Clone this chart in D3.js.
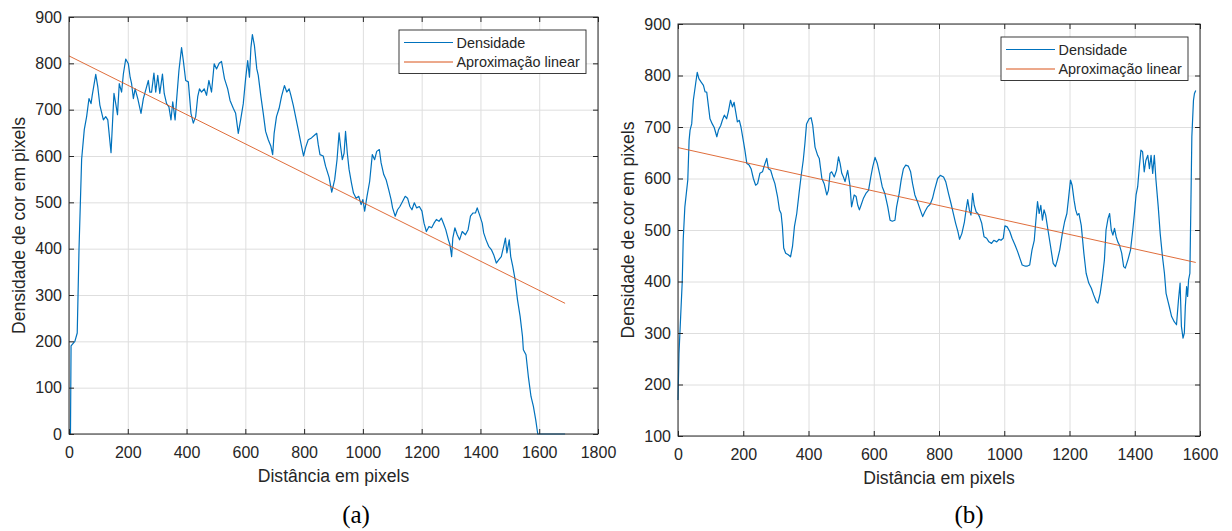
<!DOCTYPE html>
<html>
<head>
<meta charset="utf-8">
<script src="https://cdn.jsdelivr.net/npm/d3@7"></script>
<style>
  body { margin: 0; background: #fff; }
  svg { display: block; font-family: "Liberation Sans", Arial, sans-serif; }
  .grid line { stroke: #dedede; stroke-width: 1; }
  .grid .domain { display: none; }
  .axis text { fill: #262626; font-size: 16px; }
  .axis line { stroke: #262626; }
  .axis .domain { display: none; }
</style>
</head>
<body>
<script>
// Painel (a) - densidade ao longo da distância
const distA = [
  5, 7, 20, 28, 34, 43, 52, 60, 68, 75,
  79, 91, 98, 105, 117, 125, 132, 143, 153, 159,
  165, 171, 179, 185, 193, 202, 208, 213, 219, 225,
  234, 245, 253, 264, 270, 275, 281, 289, 295, 302,
  309, 318, 324, 332, 340, 347, 353, 361, 366, 374,
  383, 389, 397, 406, 415, 423, 431, 438, 444, 451,
  460, 468, 476, 485, 494, 502, 511, 519, 529, 540,
  548, 559, 567, 576, 584, 593, 601, 608, 614, 619,
  624, 631, 639, 644, 653, 661, 669, 678, 687, 693,
  698, 706, 715, 723, 733, 741, 749, 755, 763, 771,
  780, 789, 798, 805, 814, 825, 837, 843, 848, 854,
  865, 873, 885, 894, 904, 912, 919, 924, 930, 936,
  941, 947, 953, 961, 968, 977, 986, 994, 1000, 1006,
  1014, 1023, 1032, 1040, 1047, 1056, 1062, 1071, 1079, 1088,
  1096, 1101, 1110, 1118, 1126, 1135, 1144, 1152, 1160, 1167,
  1175, 1183, 1192, 1201, 1208, 1216, 1225, 1234, 1242, 1250,
  1259, 1267, 1274, 1282, 1291, 1296, 1302, 1306, 1313, 1321,
  1329, 1338, 1349, 1358, 1366, 1375, 1383, 1389, 1397, 1406,
  1411, 1419, 1428, 1437, 1445, 1454, 1462, 1471, 1479, 1485,
  1490, 1498, 1503, 1510, 1518, 1526, 1535, 1543, 1546, 1555,
  1563, 1572, 1580, 1588, 1595, 1688
];
const densA = [
  0, 190, 200, 218, 397, 593, 657, 685, 724, 713,
  731, 776, 749, 710, 678, 685, 678, 607, 735, 713,
  689, 756, 738, 777, 809, 799, 770, 756, 724, 745,
  724, 692, 724, 749, 763, 738, 738, 779, 738, 774,
  735, 777, 735, 713, 706, 678, 717, 678, 720, 784,
  834, 806, 763, 760, 692, 671, 685, 728, 745, 738,
  745, 731, 763, 738, 799, 788, 800, 804, 767, 745,
  720, 703, 692, 649, 678, 713, 767, 806, 770, 834,
  862, 838, 788, 774, 728, 692, 653, 635, 621, 603,
  649, 685, 703, 728, 752, 738, 745, 731, 710, 685,
  657, 628, 600, 618, 635, 639, 646, 649, 625, 603,
  600, 578, 554, 522, 549, 592, 650, 621, 592, 606,
  653, 606, 571, 542, 520, 509, 513, 495, 506, 481,
  513, 545, 603, 592, 610, 614, 585, 560, 549, 527,
  506, 488, 470, 484, 491, 502, 513, 509, 491, 484,
  499, 488, 491, 481, 455, 437, 448, 445, 455, 463,
  459, 466, 455, 441, 419, 409, 383, 423, 445, 430,
  419, 437, 430, 441, 470, 477, 477, 488, 473, 455,
  434, 419, 405, 398, 387, 369, 376, 383, 405, 423,
  391, 419, 383, 362, 333, 290, 254, 211, 182, 171,
  124, 81, 60, 31, 0, 0
];
const fitDistA = [0, 1688];
const fitDensA = [816, 282];

// Painel (b)
const distB = [
  0, 3, 8, 13, 16, 21, 30, 34, 37, 42,
  47, 54, 59, 64, 71, 78, 83, 88, 93, 98,
  105, 111, 119, 124, 131, 136, 142, 149, 154, 161,
  167, 172, 177, 182, 188, 193, 200, 205, 211, 218,
  224, 231, 238, 244, 251, 259, 265, 272, 277, 284,
  290, 297, 305, 311, 316, 320, 324, 330, 338, 345,
  351, 357, 364, 371, 377, 384, 389, 394, 402, 408,
  413, 420, 428, 433, 441, 448, 456, 461, 466, 471,
  479, 486, 492, 497, 502, 507, 512, 520, 527, 532,
  540, 546, 551, 556, 561, 568, 576, 584, 591, 597,
  604, 611, 619, 626, 634, 643, 650, 657, 665, 670,
  678, 684, 691, 698, 706, 713, 719, 726, 734, 741,
  750, 757, 765, 773, 780, 786, 796, 804, 814, 821,
  829, 837, 844, 851, 858, 863, 870, 878, 883, 888,
  893, 898, 903, 908, 914, 919, 924, 931, 938, 946,
  953, 961, 968, 977, 984, 990, 997, 1002, 1009, 1017,
  1024, 1033, 1041, 1048, 1055, 1063, 1071, 1078, 1085, 1092,
  1097, 1102, 1107, 1112, 1117, 1122, 1127, 1134, 1142, 1150,
  1157, 1163, 1170, 1178, 1185, 1192, 1197, 1203, 1208, 1214,
  1219, 1224, 1229, 1236, 1244, 1251, 1259, 1267, 1274, 1282,
  1287, 1294, 1300, 1307, 1312, 1318, 1323, 1328, 1333, 1338,
  1343, 1348, 1353, 1360, 1366, 1371, 1379, 1387, 1394, 1399,
  1404, 1409, 1414, 1419, 1424, 1429, 1434, 1440, 1445, 1450,
  1455, 1460, 1465, 1472, 1478, 1485, 1491, 1496, 1501, 1506,
  1513, 1521, 1528, 1534, 1539, 1543, 1548, 1552, 1555, 1559,
  1562, 1565, 1569, 1572, 1575, 1580, 1583, 1587
];
const densB = [
  170, 260, 330, 400, 481, 545, 597, 674, 694, 706,
  752, 784, 806, 794, 787, 781, 768, 768, 742, 716,
  706, 699, 681, 694, 703, 713, 723, 716, 729, 752,
  739, 748, 729, 710, 713, 700, 674, 655, 629, 626,
  619, 600, 587, 590, 610, 613, 626, 639, 619, 616,
  603, 590, 565, 539, 532, 507, 465, 455, 452, 448,
  468, 507, 532, 571, 603, 636, 668, 706, 716, 718,
  703, 661, 645, 639, 600, 590, 568, 577, 610, 613,
  603, 616, 642, 629, 610, 603, 594, 616, 587, 545,
  568, 565, 548, 539, 548, 561, 571, 577, 603, 623,
  641, 629, 606, 584, 571, 545, 519, 517, 519, 545,
  571, 597, 619, 626, 624, 613, 590, 568, 555, 542,
  526, 536, 545, 550, 561, 577, 600, 606, 603, 593,
  571, 551, 532, 513, 497, 482, 493, 516, 539, 559,
  539, 529, 571, 548, 535, 532, 526, 513, 487, 484,
  477, 474, 480, 477, 482, 480, 484, 508, 506, 497,
  484, 471, 458, 445, 432, 430, 430, 432, 461, 480,
  519, 555, 532, 548, 519, 539, 529, 500, 468, 435,
  429, 442, 461, 493, 516, 532, 561, 597, 587, 558,
  539, 529, 532, 509, 455, 416, 397, 387, 374, 361,
  358, 377, 403, 442, 500, 522, 532, 500, 490, 503,
  487, 477, 471, 455, 429, 426, 442, 461, 500, 532,
  568, 584, 622, 655, 652, 613, 635, 645, 619, 645,
  610, 645, 597, 545, 493, 448, 416, 377, 364, 351,
  332, 322, 316, 364, 397, 313, 290, 300, 351, 390,
  371, 403, 416, 545, 681, 752, 765, 771
];
const fitDistB = [0, 1587];
const fitDensB = [660, 437];

// Ticks
const xTicksA = [0, 200, 400, 600, 800, 1000, 1200, 1400, 1600, 1800];
const yTicksA = [0, 100, 200, 300, 400, 500, 600, 700, 800, 900];
const xTicksB = [0, 200, 400, 600, 800, 1000, 1200, 1400, 1600];
const yTicksB = [100, 200, 300, 400, 500, 600, 700, 800, 900];

const legendLabels = ['Densidade', 'Aproximação linear'];
const BLUE = '#0072BD', ORANGE = '#D95319', INK = '#262626';

const svg = d3.select('body').append('svg')
    .attr('width', 1232)
    .attr('height', 531);

svg.append('rect').attr('width', 1232).attr('height', 531).attr('fill', '#fff');

function drawPanel(p) {
  const x = d3.scaleLinear().domain(p.xDomain).range([p.left, p.right]);
  const y = d3.scaleLinear().domain(p.yDomain).range([p.bottom, p.top]);
  const w = p.right - p.left, h = p.bottom - p.top;
  const fmt = d3.format('d');

  const g = svg.append('g');

  // grid
  g.append('g')
     .attr('class', 'grid')
     .attr('transform', `translate(0,${p.bottom})`)
     .call(d3.axisBottom(x).tickValues(p.xTicks).tickSize(-h).tickFormat(''));
  g.append('g')
     .attr('class', 'grid')
     .attr('transform', `translate(${p.left},0)`)
     .call(d3.axisLeft(y).tickValues(p.yTicks).tickSize(-w).tickFormat(''));

  // data
  const line = d3.line().x(d => x(d[0])).y(d => y(d[1]));
  g.append('path')
     .datum(d3.zip(p.dist, p.dens))
     .attr('fill', 'none')
     .attr('stroke', BLUE)
     .attr('stroke-width', 1.2)
     .attr('stroke-linejoin', 'round')
     .attr('d', line);
  g.append('path')
     .datum(d3.zip(p.fitDist, p.fitDens))
     .attr('fill', 'none')
     .attr('stroke', ORANGE)
     .attr('stroke-opacity', 0.85)
     .attr('stroke-width', 1)
     .attr('d', line);

  // axes, ticks pointing inward
  g.append('g')
     .attr('class', 'axis')
     .attr('transform', `translate(0,${p.bottom})`)
     .call(d3.axisBottom(x).tickValues(p.xTicks).tickFormat(fmt)
             .tickSizeInner(-5).tickSizeOuter(0).tickPadding(13));
  g.append('g')
     .attr('class', 'axis')
     .attr('transform', `translate(${p.left},0)`)
     .call(d3.axisLeft(y).tickValues(p.yTicks).tickFormat(fmt)
             .tickSizeInner(-5).tickSizeOuter(0).tickPadding(7));
  g.append('g')
     .attr('class', 'axis')
     .attr('transform', `translate(0,${p.top})`)
     .call(d3.axisTop(x).tickValues(p.xTicks).tickSizeInner(-5).tickSizeOuter(0).tickFormat(''));
  g.append('g')
     .attr('class', 'axis')
     .attr('transform', `translate(${p.right},0)`)
     .call(d3.axisRight(y).tickValues(p.yTicks).tickSizeInner(-5).tickSizeOuter(0).tickFormat(''));

  g.append('rect')
     .attr('x', p.left).attr('y', p.top)
     .attr('width', w).attr('height', h)
     .attr('fill', 'none')
     .attr('stroke', INK)
     .attr('stroke-width', 1);

  // axis labels
  g.append('text')
     .attr('x', (p.left + p.right) / 2)
     .attr('y', p.bottom + 48)
     .attr('text-anchor', 'middle')
     .attr('fill', INK)
     .style('font-size', '17.6px')
     .text('Distância em pixels');
  g.append('text')
     .attr('transform', `translate(${p.left - 44},${(p.top + p.bottom) / 2}) rotate(-90)`)
     .attr('text-anchor', 'middle')
     .attr('fill', INK)
     .style('font-size', '17.6px')
     .text('Densidade de cor em pixels');

  // legend
  const lg = g.append('g').attr('transform', `translate(${p.right - 12 - 187},${p.top + 13})`);
  lg.append('rect')
     .attr('width', 187).attr('height', 43.5)
     .attr('fill', '#fff')
     .attr('stroke', INK)
     .attr('stroke-width', 0.9);
  [BLUE, ORANGE].forEach((c, i) => {
    const yy = 12.5 + i * 19.5;
    lg.append('line')
       .attr('x1', 5).attr('x2', 54)
       .attr('y1', yy).attr('y2', yy)
       .attr('stroke', c).attr('stroke-width', 1);
    lg.append('text')
       .attr('x', 57.5).attr('y', yy + 5)
       .attr('fill', INK)
       .style('font-size', '14.4px')
       .text(legendLabels[i]);
  });

  // caption
  svg.append('text')
     .attr('x', p.captionX)
     .attr('y', 523)
     .attr('text-anchor', 'middle')
     .attr('fill', '#000')
     .style('font-family', '"Liberation Serif", "Times New Roman", serif')
     .style('font-size', '25px')
     .text(p.caption);
}

drawPanel({
  left: 69, right: 598, top: 17, bottom: 434,
  xDomain: [0, 1800], yDomain: [0, 900],
  xTicks: xTicksA, yTicks: yTicksA,
  dist: distA, dens: densA, fitDist: fitDistA, fitDens: fitDensA,
  caption: '(a)', captionX: 356
});

drawPanel({
  left: 678, right: 1200, top: 24, bottom: 436,
  xDomain: [0, 1600], yDomain: [100, 900],
  xTicks: xTicksB, yTicks: yTicksB,
  dist: distB, dens: densB, fitDist: fitDistB, fitDens: fitDensB,
  caption: '(b)', captionX: 969
});
</script>
</body>
</html>
